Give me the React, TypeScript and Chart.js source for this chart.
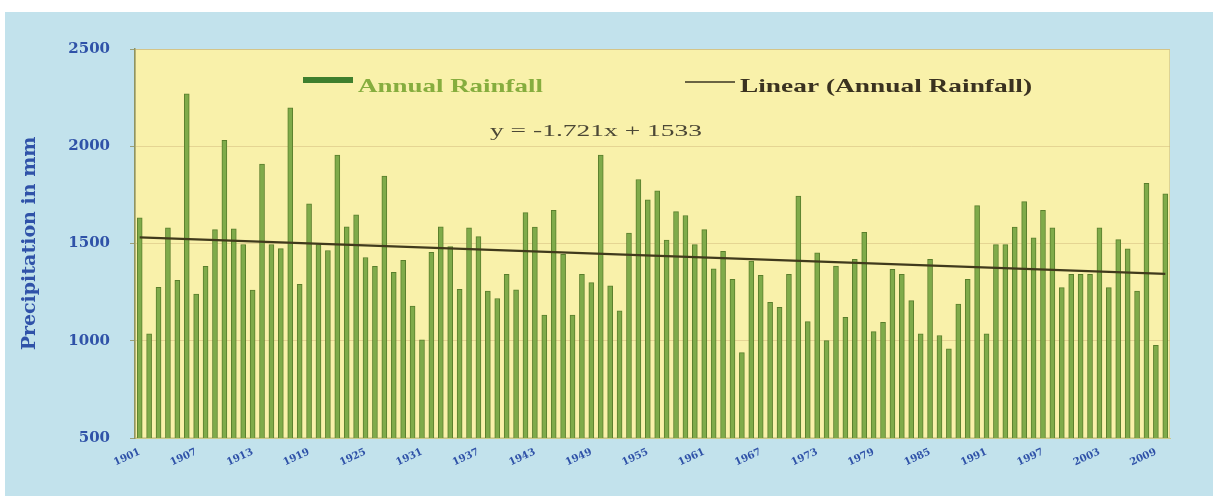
import React, { useEffect, useRef } from "react";
import { Chart, registerables } from "chart.js";

Chart.register(...registerables);

// ---- Data ----
const firstYear = 1901;
const rainfall: number[] = [
  1632, 1036, 1275, 1581, 1311, 2270, 1240, 1382, 1571, 2030,
  1576, 1495, 1260, 1908, 1495, 1474, 2198, 1290, 1704, 1495,
  1464, 1954, 1586, 1648, 1428, 1382, 1846, 1352, 1413, 1178,
  1005, 1454, 1586, 1484, 1265, 1581, 1535, 1256, 1217, 1341,
  1262, 1659, 1585, 1132, 1670, 1444, 1132, 1341, 1299, 1954,
  1282, 1154, 1554, 1829, 1724, 1771, 1517, 1664, 1644, 1494,
  1571, 1370, 1460, 1316, 939, 1409, 1336, 1197, 1172, 1341,
  1744, 1098, 1452, 1001, 1384, 1120, 1418, 1557, 1047, 1095,
  1367, 1341, 1206, 1036, 1418, 1027, 959, 1189, 1316, 1695,
  1036, 1494, 1494, 1585, 1715, 1529, 1670, 1580, 1273, 1341,
  1341, 1341, 1580, 1273, 1520, 1472, 1256, 1809, 976, 1755,
];
const years: string[] = rainfall.map((_, i) => String(firstYear + i));
const trendEndpoints: number[] = [1531, 1344];
const yTickValues: number[] = [500, 1000, 1500, 2000, 2500];
const labelEvery = 6;
const seriesName = "Annual Rainfall";
const trendName = "Linear (Annual Rainfall)";
const equationText = "y = -1.721x + 1533";
const axisTitle = "Precipitation in mm";

const SERIF = "'DejaVu Serif', 'Liberation Serif', serif";
const TIMES = "'Liberation Serif', 'DejaVu Serif', serif";

function drawFitted(
  ctx: CanvasRenderingContext2D,
  text: string,
  x: number,
  y: number,
  width: number,
  font: string,
  color: string
) {
  ctx.save();
  ctx.font = font;
  ctx.fillStyle = color;
  ctx.textBaseline = "alphabetic";
  ctx.textAlign = "left";
  const w = ctx.measureText(text).width;
  ctx.translate(x, y);
  ctx.scale(width / w, 1);
  ctx.fillText(text, 0, 0);
  ctx.restore();
}

const backgroundPlugin = {
  id: "bgPlugin",
  beforeDraw(chart: any) {
    const { ctx, width, height, chartArea } = chart;
    ctx.save();
    ctx.fillStyle = "#ffffff";
    ctx.fillRect(0, 0, width, height);
    ctx.fillStyle = "#c2e2ec";
    ctx.fillRect(5, 12, width - 5, height - 12);
    ctx.fillStyle = "#f9f1aa";
    ctx.fillRect(chartArea.left, chartArea.top, chartArea.right - chartArea.left, chartArea.bottom - chartArea.top);
    ctx.strokeStyle = "#ddd394";
    ctx.lineWidth = 1;
    ctx.strokeRect(chartArea.left + 0.5, chartArea.top + 0.5, chartArea.right - chartArea.left - 1, chartArea.bottom - chartArea.top - 1);
    ctx.restore();
  },
};

const overlayPlugin = {
  id: "overlayPlugin",
  afterDraw(chart: any) {
    const { ctx } = chart;
    ctx.save();
    // legend item 1: bar swatch
    ctx.fillStyle = "#3f7f2e";
    ctx.fillRect(303, 77, 50, 6);
    drawFitted(ctx, seriesName, 358, 92, 185, `bold 19px ${TIMES}`, "#86ad3e");
    // legend item 2: line swatch
    ctx.strokeStyle = "#3a3520";
    ctx.lineWidth = 1.5;
    ctx.beginPath();
    ctx.moveTo(685, 82);
    ctx.lineTo(735, 82);
    ctx.stroke();
    drawFitted(ctx, trendName, 740, 92, 292, `bold 19px ${TIMES}`, "#3a3220");
    // trend equation
    drawFitted(ctx, equationText, 490, 136, 212, `17px ${TIMES}`, "#4c4836");
    ctx.restore();
  },
};

export default function App() {
  const canvasRef = useRef<HTMLCanvasElement | null>(null);

  useEffect(() => {
    if (!canvasRef.current) return;
    const trendData = years.map((_, i) =>
      i === 0 ? trendEndpoints[0] : i === years.length - 1 ? trendEndpoints[1] : null
    );
    const chart = new Chart(canvasRef.current, {
      type: "bar",
      data: {
        labels: years,
        datasets: [
          {
            type: "line",
            label: trendName,
            data: trendData as any,
            borderColor: "#403a1c",
            borderWidth: 2.2,
            pointRadius: 0,
            spanGaps: true,
            order: 0,
          } as any,
          {
            type: "bar",
            label: seriesName,
            data: rainfall,
            backgroundColor: "#7fab4a",
            borderColor: "#5a7f2c",
            borderWidth: 1,
            barThickness: 5,
            order: 1,
          } as any,
        ],
      },
      options: {
        animation: false,
        responsive: true,
        maintainAspectRatio: false,
        layout: { padding: { top: 49, right: 43, bottom: 0, left: 0 } },
        plugins: {
          legend: { display: false },
          tooltip: { enabled: false },
        },
        scales: {
          x: {
            afterFit: (scale: any) => {
              scale.height = 58;
            },
            grid: { display: false, drawTicks: false },
            border: { display: true, color: "#c9c98a" },
            ticks: {
              autoSkip: false,
              minRotation: 25,
              maxRotation: 25,
              padding: 8,
              color: "#2f52a8",
              font: { family: SERIF, size: 10, weight: "bold" },
              callback: (_v: any, idx: number) => (idx % labelEvery === 0 ? years[idx] : ""),
            },
          },
          y: {
            min: 500,
            max: 2500,
            afterFit: (scale: any) => {
              scale.width = 135;
            },
            afterBuildTicks: (scale: any) => {
              scale.ticks = yTickValues.map((v) => ({ value: v }));
            },
            grid: {
              color: "rgba(205,180,120,0.45)",
              tickLength: 5,
              tickColor: "#9aa07a",
            },
            border: { display: true, color: "#8f9460", width: 1.5 },
            ticks: {
              padding: 20,
              color: "#2f52a8",
              font: { family: SERIF, size: 15, weight: "bold" },
              callback: (v: any) => String(v),
            },
            title: {
              display: true,
              text: axisTitle,
              color: "#2f52a8",
              font: { family: SERIF, size: 19, weight: "bold" },
              padding: { top: 19, bottom: 0 },
            },
          },
        },
      } as any,
      plugins: [backgroundPlugin, overlayPlugin],
    });
    return () => chart.destroy();
  }, []);

  return (
    <div style={{ position: "fixed", left: 0, top: 0, width: 1213, height: 496 }}>
      <canvas ref={canvasRef} />
    </div>
  );
}
